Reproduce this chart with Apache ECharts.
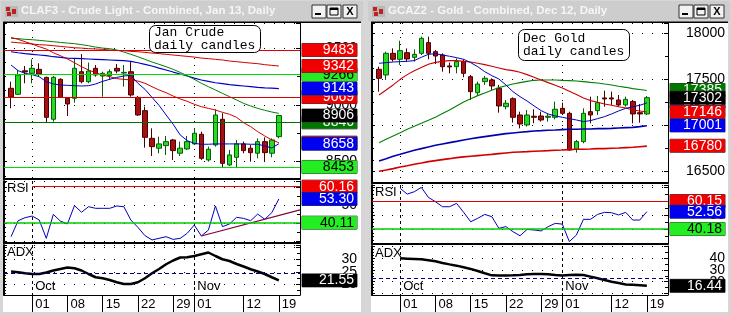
<!DOCTYPE html>
<html>
<head>
<meta charset="utf-8">
<title>Jan Crude / Dec Gold daily candles</title>
<script src="https://cdn.jsdelivr.net/npm/echarts@6.0.0/dist/echarts.min.js"></script>
<style>
  html, body { margin: 0; padding: 0; background: #d6d6d6; }
  #main { width: 731px; height: 315px; }
</style>
</head>
<body>
<div id="main"></div>
<script>
// trading days (first one and last three carry no candle)
const dates = ['09-25', '09-26', '09-27', '09-28', '10-01', '10-02', '10-03', '10-04', '10-05', '10-08',
  '10-09', '10-10', '10-11', '10-12', '10-15', '10-16', '10-17', '10-18', '10-19', '10-22',
  '10-23', '10-24', '10-25', '10-26', '10-29', '10-30', '10-31', '11-01', '11-02', '11-05',
  '11-06', '11-07', '11-08', '11-09', '11-12', '11-13', '11-14', '11-15', '11-16', '11-19',
  '11-20', '11-21', '11-23'];
const dayLabels = ['10-01', '10-08', '10-15', '10-22', '10-29', '11-01', '11-12', '11-19'];
const monthStarts = ['10-01', '11-01'];
const monthNames = { '10': 'Oct', '11': 'Nov' };

// ---- Jan Crude (CLAF3) ----
const crudeOpen = [9146, 9093, 9300, 9278, 9313, 9242, 8873, 9225, 9058, 9058, 9292, 9204, 9322, 9254, 9257, 9322, 9280, 9292, 9066, 8949,
  8705, 8618, 8641, 8691, 8574, 8612, 8656, 8741, 8515, 8647, 8873, 8471, 8538, 8656, 8618, 8574, 8676, 8574, 8720];
const crudeClose = [9072, 9263, 9290, 9322, 9272, 8890, 9242, 9066, 9008, 9322, 9204, 9298, 9263, 9278, 9292, 9298, 9286, 9087, 8911, 8714,
  8632, 8656, 8676, 8597, 8618, 8676, 8750, 8529, 8609, 8911, 8485, 8559, 8656, 8597, 8579, 8676, 8579, 8691, 8906];
const crudeLow = [8970, 9087, 9190, 9190, 9248, 8843, 8852, 9060, 8902, 9019, 9190, 9190, 9248, 9072, 9219, 9278, 9160, 9072, 8902, 8623,
  8550, 8574, 8559, 8515, 8550, 8603, 8647, 8515, 8500, 8632, 8450, 8462, 8450, 8574, 8500, 8529, 8500, 8538, 8705];
const crudeHigh = [9204, 9307, 9342, 9401, 9366, 9248, 9254, 9234, 9062, 9410, 9448, 9372, 9351, 9292, 9313, 9360, 9351, 9380, 9078, 8984,
  8793, 8720, 8726, 8700, 8676, 8726, 8793, 8764, 8632, 8961, 8926, 8603, 8691, 8676, 8647, 8705, 8714, 8705, 8911];
const crudeSlowRed = [9553, 9547, 9542, 9536, 9530, 9527, 9521, 9515, 9509, 9503, 9500, 9495, 9492, 9489, 9483, 9480, 9477, 9471, 9468, 9462,
  9456, 9451, 9445, 9439, 9433, 9427, 9421, 9412, 9407, 9401, 9395, 9386, 9380, 9374, 9368, 9363, 9354, 9348, 9342];
const crudeSlowBlue = [9468, 9459, 9451, 9445, 9439, 9433, 9424, 9418, 9412, 9410, 9407, 9404, 9401, 9398, 9395, 9392, 9389, 9383, 9371, 9357,
  9342, 9324, 9307, 9289, 9272, 9254, 9236, 9219, 9207, 9195, 9187, 9178, 9172, 9166, 9160, 9154, 9150, 9147, 9143];
const crudeGreen = [9586, 9583, 9577, 9574, 9568, 9562, 9556, 9550, 9544, 9539, 9530, 9521, 9509, 9500, 9495, 9483, 9465, 9445, 9424, 9401,
  9377, 9357, 9336, 9313, 9286, 9257, 9225, 9190, 9160, 9131, 9101, 9072, 9043, 9013, 8990, 8969, 8952, 8937, 8925];
const crudeFastRed = [9594, 9577, 9556, 9536, 9512, 9492, 9459, 9433, 9404, 9371, 9336, 9307, 9283, 9263, 9248, 9231, 9225, 9219, 9210, 9190,
  9160, 9131, 9107, 9078, 9052, 9031, 9005, 8984, 8969, 8955, 8934, 8917, 8890, 8843, 8808, 8764, 8726, 8691, 8667];
const crudeFastBlue = [9351, 9301, 9278, 9266, 9248, 9204, 9184, 9175, 9172, 9169, 9166, 9169, 9184, 9207, 9225, 9242, 9254, 9260, 9190, 9137,
  9066, 8996, 8911, 8829, 8735, 8685, 8661, 8653, 8653, 8656, 8656, 8656, 8656, 8656, 8653, 8653, 8638, 8620, 8658];
const crudeRsi = [32.3, 41.2, 42.9, 43.8, 41.6, 31.4, 44.7, 41.0, 39.4, 49.6, 45.9, 49.0, 48.1, 48.1, 48.1, 49.4, 49.0, 41.6, 37.5, 32.9,
  30.5, 31.4, 32.3, 30.8, 31.4, 34.2, 38.8, 32.7, 36.0, 49.4, 37.9, 39.4, 43.1, 42.5, 41.2, 44.9, 42.0, 45.7, 53.3];
const crudeRsiTrend = [['11-02', 32.7], ['11-23', 47.2]];
const crudeAdx = [25.1, 24.8, 24.4, 24.1, 24.1, 24.7, 25.5, 26.1, 26.7, 26.4, 25.5, 24.1, 22.8, 22.4, 21.7, 20.8, 20.1, 20.1, 20.8, 22.4,
  24.4, 26.1, 28.0, 29.5, 30.7, 30.8, 31.3, 32.0, 32.7, 31.3, 30.0, 29.3, 28.1, 27.1, 26.0, 25.1, 24.1, 22.8, 21.55];
const crudeLevels = [9483, 9266, 9069, 8846, 8453];
const crudeTags = [9733, 9483, 9266, 9342, 9069, 9143, 8846, 8906, 8667, 8658, 8453];
const crudeTagKinds = ['dkgreen', 'red', 'green', 'red', 'red', 'blue', 'dkgreen', 'black', 'red', 'blue', 'green'];
const crudeRsiLevels = [60.16, 40.11];
const crudeRsiLevelFrom = ['10-01', '09-25'];
const crudeRsiTags = [60.16, 53.30, 40.11];
const crudeAdxRef = 24.5;
const crudeAdxTag = 21.55;
const crudePriceTicks = [8500, 9000, 9500];
const crudeRsiTicks = [40, 50, 60];
const crudeAdxTicks = [20, 25, 30];

// ---- Dec Gold (GCAZ2) ----
const goldOpen = [17610, 17548, 17783, 17718, 17790, 17740, 17783, 17899, 17801, 17765, 17646, 17638, 17693, 17530, 17356, 17476, 17494, 17403, 17204, 17291,
  17114, 17006, 17100, 17103, 17089, 17089, 17186, 17132, 16742, 16825, 17150, 17161, 17299, 17299, 17277, 17223, 17259, 17139, 17125];
const goldClose = [17512, 17783, 17718, 17812, 17722, 17772, 17946, 17783, 17754, 17638, 17635, 17693, 17566, 17367, 17450, 17512, 17429, 17212, 17241, 17089,
  17016, 17114, 17089, 17060, 17100, 17176, 17132, 16734, 16825, 17132, 17114, 17248, 17288, 17288, 17223, 17284, 17125, 17125, 17302];
const goldLow = [17367, 17494, 17693, 17657, 17693, 17693, 17765, 17718, 17667, 17584, 17566, 17566, 17523, 17277, 17331, 17440, 17385, 17139, 17176, 17031,
  16969, 16988, 17024, 17042, 17042, 17067, 17114, 16727, 16706, 16807, 17024, 17114, 17204, 17223, 17204, 17204, 17024, 17031, 17114];
const goldHigh = [17638, 17801, 17837, 17920, 17837, 17826, 17964, 17964, 17819, 17783, 17682, 17729, 17718, 17548, 17476, 17537, 17512, 17440, 17277, 17306,
  17150, 17168, 17176, 17150, 17132, 17259, 17248, 17150, 16843, 17186, 17313, 17320, 17378, 17367, 17331, 17313, 17277, 17233, 17320];
const goldSlowRed = [16503, 16517, 16532, 16550, 16564, 16579, 16593, 16608, 16619, 16630, 16640, 16651, 16659, 16666, 16673, 16680, 16687, 16695, 16702, 16709,
  16713, 16716, 16720, 16724, 16727, 16731, 16734, 16738, 16742, 16742, 16745, 16749, 16749, 16753, 16756, 16760, 16764, 16770, 16776];
const goldSlowBlue = [16615, 16640, 16666, 16687, 16709, 16731, 16749, 16767, 16785, 16800, 16814, 16828, 16843, 16857, 16868, 16879, 16890, 16901, 16912, 16919,
  16926, 16933, 16941, 16944, 16948, 16951, 16955, 16959, 16959, 16962, 16962, 16966, 16966, 16969, 16973, 16977, 16980, 16988, 16998];
const goldGreen = [16814, 16850, 16886, 16922, 16959, 16991, 17024, 17056, 17089, 17129, 17168, 17212, 17255, 17291, 17324, 17353, 17382, 17411, 17432, 17450,
  17465, 17479, 17490, 17494, 17494, 17494, 17490, 17487, 17483, 17476, 17468, 17461, 17450, 17440, 17425, 17414, 17400, 17390, 17380];
const goldMidRed = [17331, 17385, 17440, 17501, 17552, 17595, 17628, 17664, 17685, 17696, 17704, 17704, 17696, 17689, 17675, 17660, 17642, 17624, 17606, 17595,
  17577, 17552, 17523, 17494, 17465, 17436, 17407, 17371, 17335, 17299, 17270, 17252, 17233, 17219, 17204, 17190, 17168, 17158, 17146];
const goldFastBlue = [17675, 17682, 17689, 17693, 17696, 17704, 17740, 17772, 17779, 17765, 17751, 17736, 17718, 17682, 17638, 17584, 17541, 17505, 17440, 17367,
  17313, 17266, 17212, 17161, 17125, 17103, 17089, 17074, 17060, 17042, 17053, 17074, 17096, 17125, 17158, 17186, 17204, 17219, 17245];
const goldRsi = [null, null, null, 69.2, 65.1, 66.8, 69.9, 62.8, 59.7, 56.1, 56.1, 58.5, 52.1, 45.4, 47.8, 50.6, 49.0, 40.7, 41.9, 38.3,
  35.4, 39.9, 39.5, 38.8, 41.9, 44.2, 43.7, 31.2, 35.9, 47.1, 47.1, 50.6, 52.1, 51.8, 50.2, 52.1, 46.6, 46.6, 52.56];
const goldAdx = [null, null, null, 40.0, 39.7, 39.4, 39.1, 38.3, 37.4, 36.0, 34.8, 33.7, 32.3, 30.9, 29.1, 27.2, 25.4, 25.2, 25.2, 25.4,
  25.7, 26.3, 26.6, 26.6, 26.3, 25.7, 25.2, 25.7, 26.0, 25.7, 24.3, 22.9, 21.5, 20.0, 18.8, 17.6, 17.4, 17.0, 16.44];
const goldLevels = [];
const goldTags = [17385, 17262, 17302, 17146, 17001, 16780];
const goldTagKinds = ['dkgreen', 'blue', 'black', 'red', 'blue', 'red'];
const goldRsiLevels = [60.15, 40.18];
const goldRsiLevelFrom = ['09-25', '09-25'];
const goldRsiTags = [60.15, 52.56, 40.18];
const goldAdxRef = 23;
const goldAdxTag = 16.44;
const goldPriceTicks = [16500, 17000, 17500, 18000];
const goldRsiTicks = [40, 50, 60];
const goldAdxTicks = [20, 30, 40];

// ---------------------------------------------------------------
const FONT = '"Liberation Sans", Arial, sans-serif';
const TAG = {
  red: ['#f00000', '#ffffff'],
  green: ['#22ee22', '#000000'],
  dkgreen: ['#007800', '#ffffff'],
  blue: ['#0000f0', '#ffffff'],
  black: ['#000000', '#ffffff']
};
const LEVEL_COLOR = { red: '#dd0000', green: '#00dd00', dkgreen: '#007000' };

function pad(arr) { return [null].concat(arr, [null, null, null]); }
function toCandles(o, c, l, h) {
  const out = ['-'];
  o.forEach(function (v, i) { out.push([v, c[i], l[i], h[i]]); });
  return out.concat(['-', '-', '-']);
}
// 右侧彩色数值框
function tag(value, kind, digits) {
  const col = TAG[kind];
  return {
    yAxis: value,
    lineStyle: { color: 'rgba(0,0,0,0)', width: 1, type: 'solid' },
    label: {
      show: true, position: 'end', distance: 2,
      formatter: '{t|' + value.toFixed(digits) + '}',
      rich: {
        t: {
          width: 52, height: 13, lineHeight: 13, align: 'right', padding: [0, 3, 0, 0],
          backgroundColor: col[0], color: col[1], fontSize: 14, fontFamily: FONT,
          borderColor: '#333', borderWidth: 0.5
        }
      }
    }
  };
}
function isIn(list) { return function (i, v) { return list.indexOf(v) >= 0; }; }

const option = {
  animation: false,
  backgroundColor: '#d6d6d6',
  title: [], grid: [], xAxis: [], yAxis: [], series: [], graphic: []
};

function addWindow(w, cfg) {
  const bx = w * 4, by = w * 6, gi = w * 3;
  cfg.panes.forEach(function (p, k) {
    option.grid.push({ left: cfg.left, top: p.top, width: 296, height: p.height, show: false });
    option.xAxis.push({
      type: 'category', gridIndex: gi + k, data: dates, boundaryGap: false,
      axisLine: { show: true, lineStyle: { color: '#000', width: k === 2 ? 1 : 2 } },
      axisTick: k === 2 ? { show: true, interval: isIn(dayLabels), length: 17, lineStyle: { color: '#000' } } : { show: false },
      axisLabel: k === 2 ? {
        show: true, interval: isIn(dayLabels), formatter: function (v) { return v.slice(3); },
        align: 'left', padding: [0, 0, 0, 3], margin: 3, fontSize: 13, color: '#000', fontFamily: FONT
      } : { show: false },
      splitLine: { show: true, interval: isIn(monthStarts), lineStyle: { color: '#000', width: 1, type: k === 0 ? [1, 6] : [3, 3] } }
    });
    option.yAxis.push({
      type: 'value', gridIndex: gi + k, position: 'right', min: p.min, max: p.max, splitNumber: p.split,
      axisLine: { show: true, lineStyle: { color: '#000', width: 1 } },
      axisTick: { show: true, inside: true, length: 4, lineStyle: { color: '#000' } },
      minorTick: { show: true, splitNumber: 2, length: 3, lineStyle: { color: '#000' } },
      axisLabel: {
        show: true, margin: 57, align: 'right', fontSize: 14, color: '#000', fontFamily: FONT,
        formatter: function (v) { return p.ticks.indexOf(v) >= 0 ? String(v) : ''; }
      },
      splitLine: { show: true, lineStyle: { color: '#000', width: 1, type: [1, 9] } }
    });
    option.yAxis.push({
      type: 'value', gridIndex: gi + k, position: 'left', min: p.min, max: p.max, splitNumber: p.split,
      axisLine: { show: true, lineStyle: { color: '#000', width: 2 } },
      axisTick: { show: true, inside: true, length: 3, lineStyle: { color: '#000' } },
      minorTick: { show: true, splitNumber: 4, length: 2, lineStyle: { color: '#000' } },
      axisLabel: { show: false }, splitLine: { show: false }
    });
  });
  // Oct / Nov inside the ADX pane
  option.xAxis.push({
    type: 'category', gridIndex: gi + 2, data: dates, boundaryGap: false, position: 'bottom',
    axisLine: { show: false }, axisTick: { show: false }, splitLine: { show: false },
    axisLabel: {
      inside: true, interval: isIn(monthStarts), formatter: function (v) { return monthNames[v.slice(0, 2)] || ''; },
      align: 'left', padding: [0, 0, 0, 3], margin: 2, fontSize: 13, color: '#000', fontFamily: FONT
    }
  });

  // 价格面板
  const priceMarks = cfg.levels.map(function (v, i) {
    return { yAxis: v, lineStyle: { color: LEVEL_COLOR[cfg.levelKinds[i]], width: 1, type: 'solid' }, label: { show: false } };
  }).concat(cfg.tags.map(function (v, i) { return tag(v, cfg.tagKinds[i], 0); }));
  option.series.push({
    type: 'candlestick', name: cfg.name, xAxisIndex: bx, yAxisIndex: by,
    data: toCandles(cfg.o, cfg.c, cfg.l, cfg.h), barWidth: 5,
    itemStyle: { color: '#22dd22', color0: '#a81010', borderColor: '#0a5a0a', borderColor0: '#4a0000', borderWidth: 1 },
    markLine: { silent: true, symbol: ['none', 'none'], animation: false, data: priceMarks }
  });
  cfg.mas.forEach(function (m) {
    option.series.push({
      type: 'line', xAxisIndex: bx, yAxisIndex: by, data: pad(m.data), symbol: 'none', silent: true,
      lineStyle: { color: m.color, width: m.width }
    });
  });

  // RSI
  const rsiMarks = cfg.rsiLevels.map(function (v, i) {
    return [
      { coord: [cfg.rsiFrom[i], v], lineStyle: { color: i === 0 ? '#e00000' : '#00cc00', width: i === 0 ? 1.2 : 1.5, type: 'solid' }, label: { show: false } },
      { coord: ['11-23', v] }
    ];
  }).concat(cfg.rsiTags.map(function (v, i) { return tag(v, ['red', 'blue', 'green'][i], 2); }));
  option.series.push({
    type: 'line', xAxisIndex: bx + 1, yAxisIndex: by + 2, data: pad(cfg.rsi), symbol: 'none', silent: true,
    lineStyle: { color: '#0000c0', width: 1 },
    markLine: { silent: true, symbol: ['none', 'none'], animation: false, data: rsiMarks }
  });
  if (cfg.rsiTrend) {
    option.series.push({
      type: 'line', xAxisIndex: bx + 1, yAxisIndex: by + 2, data: cfg.rsiTrend, symbol: 'none', silent: true,
      lineStyle: { color: '#800040', width: 1.2 }
    });
  }

  // ADX
  option.series.push({
    type: 'line', xAxisIndex: bx + 2, yAxisIndex: by + 4, data: pad(cfg.adx), symbol: 'none', silent: true,
    lineStyle: { color: '#000', width: 2.5 },
    markLine: {
      silent: true, symbol: ['none', 'none'], animation: false,
      data: [
        { yAxis: cfg.adxRef, lineStyle: { color: '#000080', width: 1, type: [4, 3] }, label: { show: false } },
        tag(cfg.adxTag, 'black', 2)
      ]
    }
  });

  // 文字
  const tl = cfg.left + 3;
  option.title.push(
    { text: 'RSI', left: tl, top: cfg.panes[1].top + 1, padding: 0, textStyle: { fontSize: 13, fontWeight: 'normal', color: '#000', fontFamily: FONT } },
    { text: 'ADX', left: tl, top: cfg.panes[2].top + 1, padding: 0, textStyle: { fontSize: 13, fontWeight: 'normal', color: '#000', fontFamily: FONT } },
    {
      text: cfg.note, left: cfg.noteAt[0], top: cfg.noteAt[1], padding: cfg.notePad,
      backgroundColor: '#fff', borderColor: '#000', borderWidth: 1, borderRadius: 6,
      textStyle: { fontSize: 13, lineHeight: 13, fontWeight: 'normal', color: '#000', fontFamily: '"Liberation Mono", monospace' }
    }
  );

  // 窗口外框
  const x0 = cfg.frame;
  const cl = cfg.left - 1;
  const cw = cfg.frame + 361 - cl;
  option.graphic.push(
    { type: 'rect', z: -10, shape: { x: cl, y: 22, width: cw, height: 290 }, style: { fill: '#ffffff' } },
    { type: 'rect', z: 50, shape: { x: x0 + 1, y: 1, width: 362, height: 20 }, style: { fill: '#cdcdcd' } },
    { type: 'rect', z: 50, shape: { x: cl, y: 21.5, width: cw, height: 1.5 }, style: { fill: '#000' } },
    { type: 'rect', z: 51, shape: { x: x0 + 5, y: 6, width: 13, height: 11 }, style: { fill: '#b8b8b8' } },
    { type: 'rect', z: 52, shape: { x: x0 + 6, y: 7, width: 4, height: 4 }, style: { fill: '#c02020' } },
    { type: 'rect', z: 52, shape: { x: x0 + 12, y: 9, width: 4, height: 5 }, style: { fill: '#c02020' } },
    { type: 'rect', z: 52, shape: { x: x0 + 7, y: 12, width: 4, height: 4 }, style: { fill: '#c02020' } },
    {
      type: 'text', z: 52, x: x0 + 21, y: 11,
      style: { text: cfg.title, fill: '#f6f6f6', font: 'bold 11.5px "Liberation Sans", Arial, sans-serif', verticalAlign: 'middle' }
    }
  );
  [0, 15, 31].forEach(function (dx, i) {
    const bxp = x0 + 312 + dx;
    option.graphic.push({ type: 'rect', z: 52, shape: { x: bxp, y: 5, width: 14, height: 13 }, style: { fill: '#f2f2f2', stroke: '#303030', lineWidth: 1 } });
    if (i === 0) option.graphic.push({ type: 'rect', z: 53, shape: { x: bxp + 3, y: 13, width: 6, height: 2 }, style: { fill: '#000' } });
    if (i === 1) option.graphic.push({ type: 'rect', z: 53, shape: { x: bxp + 3, y: 8, width: 8, height: 7 }, style: { fill: 'none', stroke: '#000', lineWidth: 1 } },
      { type: 'rect', z: 53, shape: { x: bxp + 3, y: 8, width: 8, height: 2 }, style: { fill: '#000' } });
    if (i === 2) option.graphic.push({ type: 'text', z: 53, x: bxp + 7, y: 12, style: { text: 'X', fill: '#000', font: 'bold 11px "Liberation Sans", Arial, sans-serif', align: 'center', verticalAlign: 'middle' } });
  });
}

addWindow(0, {
  name: 'Jan Crude', left: 4, frame: 0,
  title: 'CLAF3 - Crude Light - Combined, Jan 13, Daily',
  note: 'Jan Crude\ndaily candles', noteAt: [149, 25], notePad: [1, 5, 1, 5],
  panes: [
    { top: 23, height: 156, min: 8347, max: 9721, split: 3, ticks: crudePriceTicks },
    { top: 181, height: 62, min: 28.8, max: 63.3, split: 3, ticks: crudeRsiTicks },
    { top: 245, height: 50, min: 15.7, max: 35.7, split: 4, ticks: crudeAdxTicks }
  ],
  o: crudeOpen, c: crudeClose, l: crudeLow, h: crudeHigh,
  mas: [
    { data: crudeSlowRed, color: '#d00000', width: 1 },
    { data: crudeSlowBlue, color: '#0000c8', width: 1.2 },
    { data: crudeGreen, color: '#008000', width: 1 },
    { data: crudeFastRed, color: '#d00000', width: 1 },
    { data: crudeFastBlue, color: '#0000c8', width: 1 }
  ],
  levels: crudeLevels, levelKinds: ['red', 'green', 'red', 'dkgreen', 'green'],
  tags: crudeTags, tagKinds: crudeTagKinds,
  rsi: crudeRsi, rsiLevels: crudeRsiLevels, rsiFrom: crudeRsiLevelFrom, rsiTags: crudeRsiTags, rsiTrend: crudeRsiTrend,
  adx: crudeAdx, adxRef: crudeAdxRef, adxTag: crudeAdxTag
});

addWindow(1, {
  name: 'Dec Gold', left: 372, frame: 367,
  title: 'GCAZ2 - Gold - Combined, Dec 12, Daily',
  note: 'Dec Gold\ndaily candles', noteAt: [518, 29], notePad: [3, 5, 3, 5],
  panes: [
    { top: 23, height: 160, min: 16376, max: 18112, split: 3, ticks: goldPriceTicks },
    { top: 185, height: 59, min: 29.5, max: 71.6, split: 4, ticks: goldRsiTicks },
    { top: 246, height: 49, min: 8.6, max: 50.5, split: 4, ticks: goldAdxTicks }
  ],
  o: goldOpen, c: goldClose, l: goldLow, h: goldHigh,
  mas: [
    { data: goldSlowRed, color: '#d00000', width: 1.6 },
    { data: goldSlowBlue, color: '#0000b0', width: 1.6 },
    { data: goldGreen, color: '#008000', width: 1.1 },
    { data: goldMidRed, color: '#c80000', width: 1.1 },
    { data: goldFastBlue, color: '#0000c0', width: 1 }
  ],
  levels: goldLevels, levelKinds: [],
  tags: goldTags, tagKinds: goldTagKinds,
  rsi: goldRsi, rsiLevels: goldRsiLevels, rsiFrom: goldRsiLevelFrom, rsiTags: goldRsiTags, rsiTrend: null,
  adx: goldAdx, adxRef: goldAdxRef, adxTag: goldAdxTag
});

const myChart = echarts.init(document.getElementById('main'));
myChart.setOption(option);
window.addEventListener('resize', function () {
  myChart.resize();
});
</script>
</body>
</html>
